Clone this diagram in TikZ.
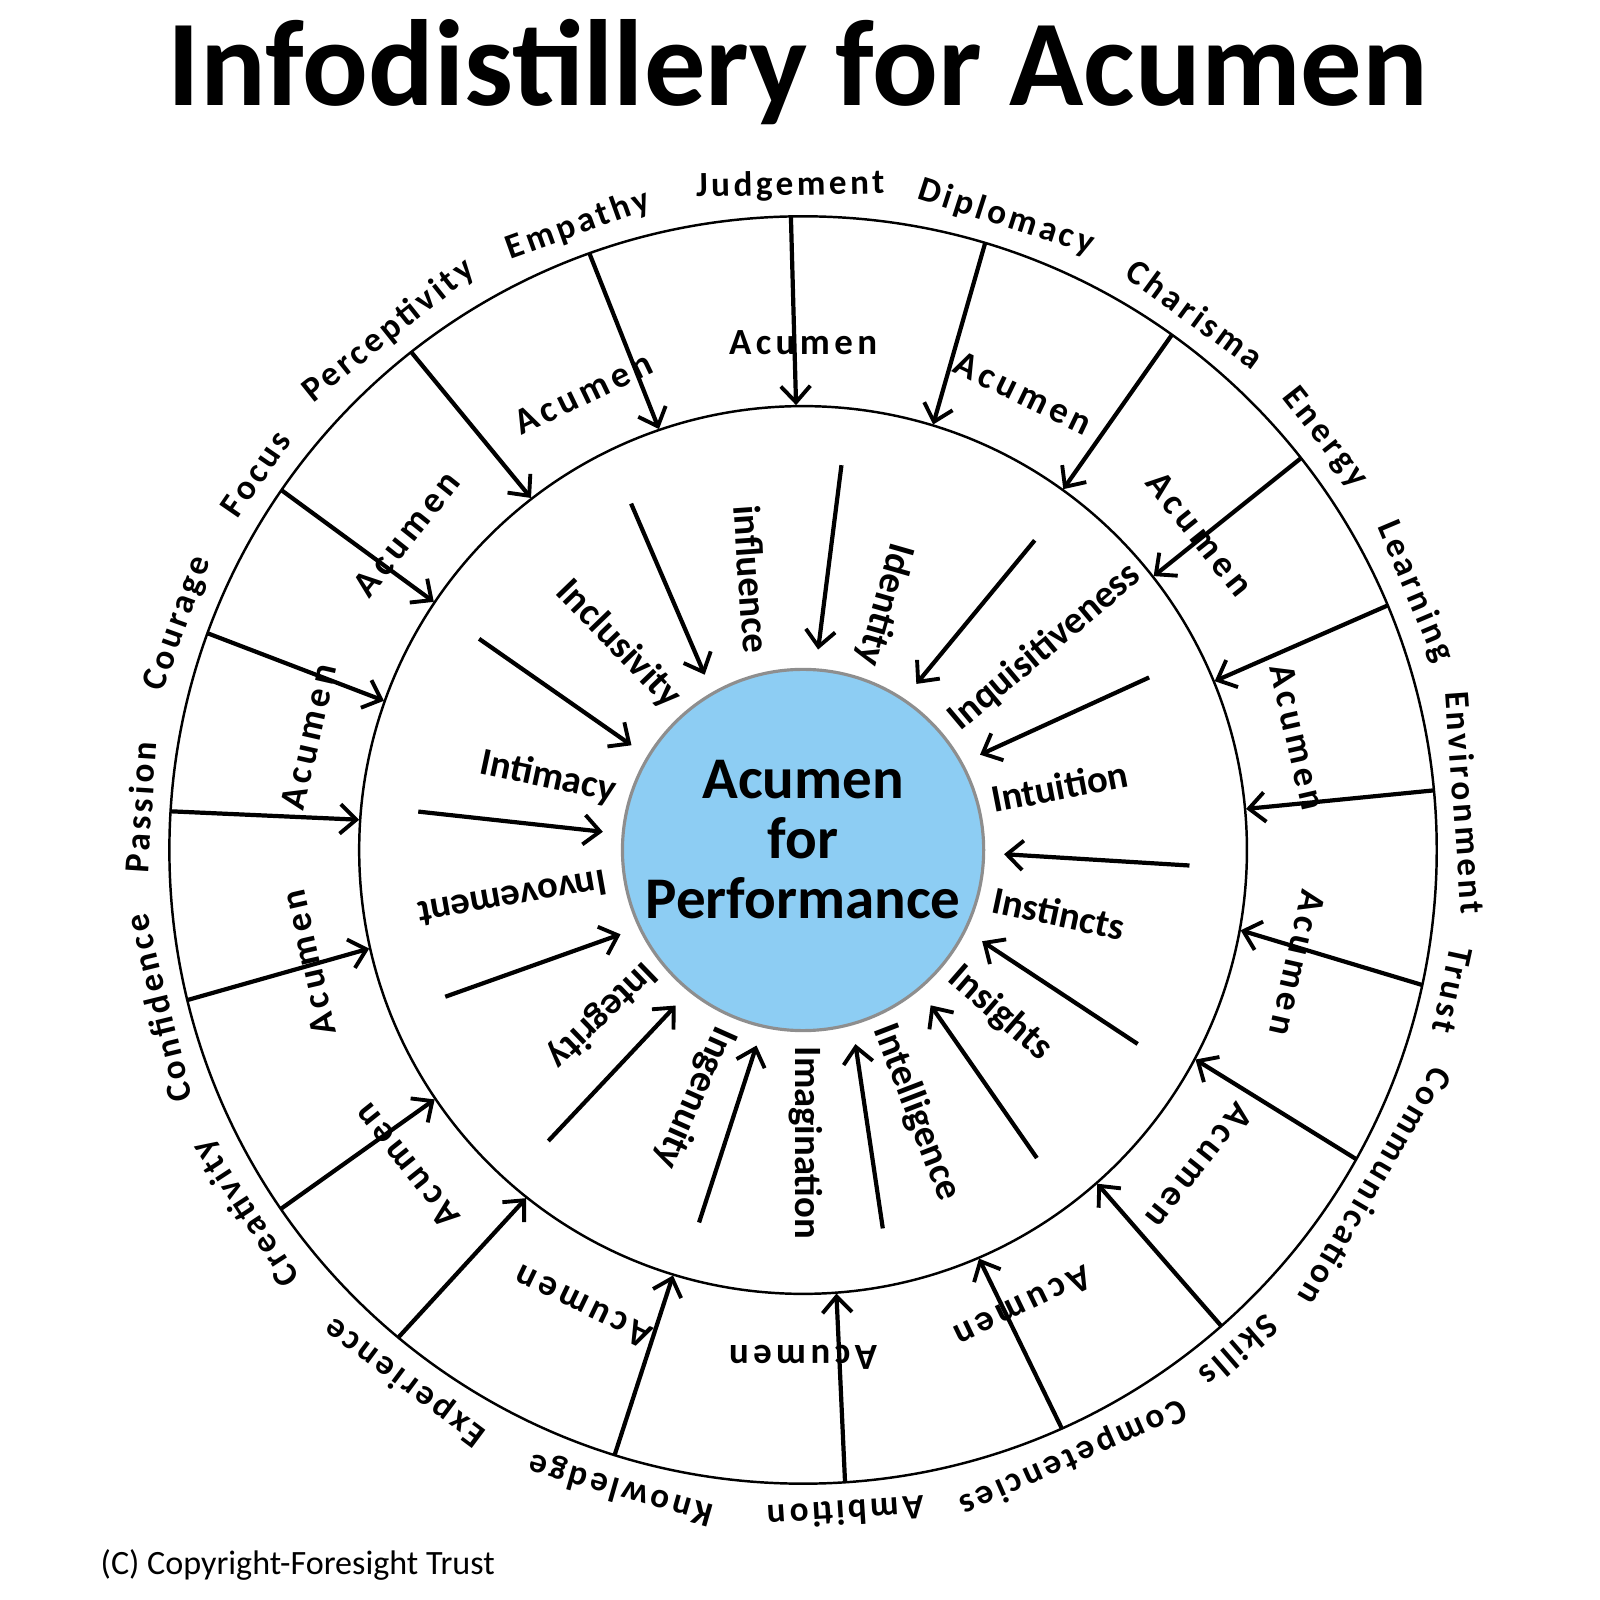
\documentclass[tikz,border=0pt]{standalone}
\usepackage{fontspec}
\setmainfont{Carlito}
\newfontfamily\ringfont[LetterSpace=10]{Carlito}
\newfontfamily\acufont[LetterSpace=12]{Carlito}
\usetikzlibrary{arrows.meta}
\definecolor{hubblue}{HTML}{8DCDF3}
\definecolor{hubrim}{HTML}{8E8E8E}
\tikzset{
  ring/.style={draw, line width=0.7pt},
  arr/.style={-{Straight Barb[length=4.6pt, width=8.4pt, line width=1.1pt]}, line width=1.2pt},
  outerlab/.style={font=\ringfont\bfseries\fontsize{10}{12}\selectfont, inner sep=0pt},
  acumenlab/.style={font=\acufont\bfseries\fontsize{10.5}{12}\selectfont, inner sep=0pt},
  innerlab/.style={font=\bfseries\fontsize{11}{13}\selectfont, inner sep=0pt},
  hub/.style={circle, draw=hubrim, line width=0.9pt, fill=hubblue, inner sep=0pt},
  hubtext/.style={align=center, inner sep=0pt, font=\bfseries\fontsize{16.8}{17.1}\selectfont},
  titlebox/.style={anchor=base, inner sep=0pt, font=\bfseries\fontsize{34.9}{40}\selectfont}
}
\begin{document}
\begin{tikzpicture}[x=0.010204cm,y=0.010204cm]
  \useasboundingbox (-787,-735) rectangle (781,833);
  \node[titlebox] (title) at (-5,730) {Infodistillery for Acumen};
  \draw[ring] (0,0) circle (621);
  \draw[ring] (0,0) circle (435);
  \node[hub, minimum size=354*0.010204cm] (hub) at (0,0) {};
  \node[hubtext] (hubtxt) at (0,10) {Acumen\\for\\Performance};
  % outer ring: qualities feeding the acumen ring
  \foreach \a/\b/\c/\lab [count=\i] in {91.1/90.9/91.1/Judgement, 73.3/73.0/72.2/Diplomacy,
      54.4/54.2/53.8/Charisma, 38.2/38.0/38.3/Energy, 22.7/22.3/22.9/Learning,
      5.4/5.3/4.1/Environment, -12.3/-10.4/-12.2/Trust, -29.2/-28.1/-30.5/Communication,
      -48.7/-48.6/-49/Skills, -65.9/-66.7/-66/Competencies, -86.2/-85.7/-86.3/Ambition,
      -107.3/-107/-105.9/Knowledge, -129.7/-128.5/-126.8/Experience,
      -145.5/-145.9/-146.9/Creativity, -166.3/-167.2/-166.2/Confidence,
      176.5/176.1/176.3/Passion, 160/160.4/160.1/Courage, 145.4/146.1/145.5/Focus,
      128.2/127.7/128.6/Perceptivity, 109.7/108.9/109.8/Empathy} {
    \coordinate (os\i) at (\a:621);
    \coordinate (oe\i) at (\b:436);
    \draw[arr] (os\i) -- (oe\i);
    \node[outerlab, rotate=\c-90] (ol\i) at (\c:651) {\lab};
  }
  \foreach \k [evaluate=\k as \a using 90-\k*360/14] in {0,...,13}
    \node[acumenlab, rotate=\a-90] (ac\k) at (\a:497) {Acumen};
  % inner ring
  \foreach \a/\b [count=\i] in {84.3/85.7, 53.2/55.7, 26.5/28.3, -2.3/-1.2, -30.1/-27,
      -52.8/-50.6, -78.1/-74.9, -105.6/-103.4, -131.2/-129.3, -157.7/-155.2,
      174.3/174.8, 146.9/148.6, 116.4/119.3} {
    \coordinate (is\i) at (\a:379);
    \coordinate (ie\i) at (\b:197);
    \draw[arr] (is\i) -- (ie\i);
  }
  \foreach \a/\r/\rot/\lab [count=\i] in {100.7/270/-86/influence, 71.6/253/-106/Identity,
      40/309/40/Inquisitiveness, 13.9/259/11/Intuition, -13.9/258/-12/Instincts,
      -39.7/251/-41/Insights, -66.6/280/-69/Intelligence, -89.4/287/-90/Imagination,
      -113.6/265/-114/Ingenuity, -140.6/255/-136/Integrity, -170.6/289/-170/Invovement,
      164.1/260/-12/Intimacy, 131.9/271/-46/Inclusivity}
    \node[innerlab, rotate=\rot] (il\i) at (\a:\r) {\lab};
  \node[anchor=base west, inner sep=0pt, font=\fontsize{9.7}{11}\selectfont] (copy)
    at (-689,-710) {(C) Copyright-Foresight Trust};
\end{tikzpicture}
\end{document}
